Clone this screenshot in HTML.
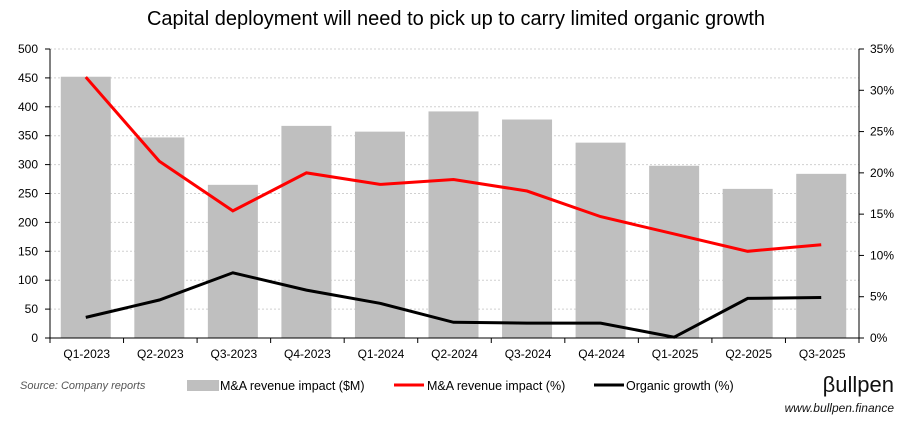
<!DOCTYPE html>
<html><head><meta charset="utf-8"><style>
body{margin:0;background:#fff;font-family:"Liberation Sans",sans-serif;}
svg text{font-family:"Liberation Sans",sans-serif;}
</style></head><body>
<svg id="c" width="919" height="427">
<text x="456" y="25" text-anchor="middle" font-size="20" fill="#000">Capital deployment will need to pick up to carry limited organic growth</text>
<g id="grid"></g><g id="bars"></g><g id="lines"></g><g id="axes"></g>
<g>
<text x="20" y="389" font-size="11" font-style="italic" fill="#555">Source: Company reports</text>
<rect x="187" y="380" width="32" height="11" fill="#bfbfbf"/>
<text x="220" y="390" font-size="12.5">M&amp;A revenue impact ($M)</text>
<line x1="394" y1="385" x2="424" y2="385" stroke="#f00" stroke-width="3"/>
<text x="427" y="390" font-size="12.5">M&amp;A revenue impact (%)</text>
<line x1="594" y1="385" x2="624" y2="385" stroke="#000" stroke-width="3"/>
<text x="626" y="390" font-size="12.5">Organic growth (%)</text>
</g>
<text x="894" y="392" text-anchor="end" font-size="22" fill="#111">βullpen</text>
<text x="894" y="412" text-anchor="end" font-size="12" font-style="italic" fill="#111">www.bullpen.finance</text>
</svg>
<script>
const categories=["Q1-2023","Q2-2023","Q3-2023","Q4-2023","Q1-2024","Q2-2024","Q3-2024","Q4-2024","Q1-2025","Q2-2025","Q3-2025"];
const maRevenue=[452,347,265,367,357,392,378,338,298,258,284];
const maPct=[31.6,21.4,15.4,20.0,18.6,19.2,17.8,14.7,12.6,10.5,11.3];
const organicPct=[2.5,4.6,7.9,5.8,4.2,1.9,1.8,1.8,0.1,4.8,4.9];
const leftTicks=[0,50,100,150,200,250,300,350,400,450,500];
const rightTicks=[0,5,10,15,20,25,30,35];
const L=50,R=859,T=49,B=338,band=(R-L)/categories.length;
const x=i=>L+band*(i+0.5);
const yL=v=>B-(v/500)*(B-T);
const yR=v=>B-(v/35)*(B-T);
const NS="http://www.w3.org/2000/svg";
function mk(tag,attrs,parent,txt){const e=document.createElementNS(NS,tag);for(const k in attrs)e.setAttribute(k,attrs[k]);if(txt!==undefined)e.textContent=txt;document.getElementById(parent).appendChild(e);return e;}
leftTicks.forEach(v=>{
 if(v>0){const g=mk('line',{x1:L,x2:R,y1:yL(v),y2:yL(v),stroke:'#d0d0d0','stroke-dasharray':'2,2'},'grid');
 
 }
 const t=mk('text',{x:L-12,y:yL(v)+4,'text-anchor':'end','font-size':12},'axes',v);
 
 
});
rightTicks.forEach(v=>{
 const t=mk('text',{x:R+11,y:yR(v)+4,'font-size':12},'axes',v+'%');
 
 
});
maRevenue.forEach((v,i)=>{
 const r=mk('rect',{x:x(i)-26,y:yL(v),width:50,height:B-yL(v),fill:'#bfbfbf'},'bars');
 
 
});
categories.forEach((c,i)=>{
 const t=mk('text',{x:x(i),y:358,'text-anchor':'middle','font-size':12},'axes',c);
 
 
});
for(let i=0;i<=categories.length;i++){
 const tk=mk('line',{x1:L+band*i,x2:L+band*i,y1:B,y2:B+5,stroke:'#000'},'axes');
 
 
}
const ax=mk('line',{x1:L,x2:R,y1:B,y2:B,stroke:'#000'},'axes');


const ay=mk('line',{x1:L,x2:L,y1:T,y2:B,stroke:'#000'},'axes');


const ay2=mk('line',{x1:R,x2:R,y1:T,y2:B,stroke:'#000'},'axes');


rightTicks.forEach(v=>{const k=mk('line',{x1:R,x2:R+5,y1:yR(v),y2:yR(v),stroke:'#000'},'axes');
 
 });
leftTicks.forEach(v=>{const k=mk('line',{x1:L-5,x2:L,y1:yL(v),y2:yL(v),stroke:'#000'},'axes');
 
 });
const p1=mk('polyline',{points:maPct.map((v,i)=>(x(i)-1)+','+yR(v)).join(' '),fill:'none',stroke:'#f00','stroke-width':3},'lines');


const p2=mk('polyline',{points:organicPct.map((v,i)=>(x(i)-1)+','+yR(v)).join(' '),fill:'none',stroke:'#000','stroke-width':3},'lines');


</script>
</body></html>
